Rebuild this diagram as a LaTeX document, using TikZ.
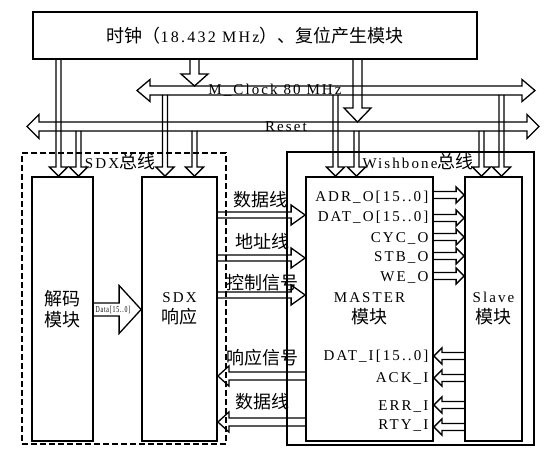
\documentclass[tikz,border=0pt]{standalone}
\usepackage{fontspec}
\setmainfont{Liberation Serif}[LetterSpace=14]
\newfontfamily\cjk{Noto Sans CJK SC}
\usetikzlibrary{calc}

\newcommand\hz[1]{{\fontsize{18}{21}\selectfont\cjk #1}}
\newcommand\lt[1]{{\fontsize{15}{21}\selectfont\rmfamily #1}}

\tikzset{
    blk/.style={draw, line width=1.8pt, inner sep=0pt, align=center, font=\fontsize{18}{21}\selectfont\cjk},
    lat/.style={inner sep=0pt, font=\fontsize{15}{18}\selectfont},
    han/.style={inner sep=0pt, font=\fontsize{18}{21}\selectfont\cjk},
    fatdown/.style n args={3}{to path={let \p1=(\tikztostart), \p2=(\tikztotarget) in
        (\x1-#1pt,\y1) -- (\x1-#1pt,\y2+#3pt) -- (\x1-#2pt,\y2+#3pt) -- (\x1,\y2) -- (\x1+#2pt,\y2+#3pt) -- (\x1+#1pt,\y2+#3pt) -- (\x1+#1pt,\y1)}},
    fatright/.style n args={3}{to path={let \p1=(\tikztostart), \p2=(\tikztotarget) in
        (\x1,\y1+#1pt) -- (\x2-#3pt,\y1+#1pt) -- (\x2-#3pt,\y1+#2pt) -- (\x2,\y1) -- (\x2-#3pt,\y1-#2pt) -- (\x2-#3pt,\y1-#1pt) -- (\x1,\y1-#1pt)}},
    fatleft/.style n args={3}{to path={let \p1=(\tikztostart), \p2=(\tikztotarget) in
        (\x1,\y1+#1pt) -- (\x2+#3pt,\y1+#1pt) -- (\x2+#3pt,\y1+#2pt) -- (\x2,\y1) -- (\x2+#3pt,\y1-#2pt) -- (\x2+#3pt,\y1-#1pt) -- (\x1,\y1-#1pt)}},
    fatboth/.style n args={3}{to path={let \p1=(\tikztostart), \p2=(\tikztotarget) in
        (\x1,\y1) -- (\x1+#3pt,\y1+#2pt) -- (\x1+#3pt,\y1+#1pt) -- (\x2-#3pt,\y1+#1pt) -- (\x2-#3pt,\y1+#2pt) -- (\x2,\y1)
        -- (\x2-#3pt,\y1-#2pt) -- (\x2-#3pt,\y1-#1pt) -- (\x1+#3pt,\y1-#1pt) -- (\x1+#3pt,\y1-#2pt) -- cycle}},
}

\begin{document}
\begin{tikzpicture}[x=1pt, y=-1pt, line width=1.3pt]
    \useasboundingbox (0,0) rectangle (548,457);

    \node[blk, minimum width=444, minimum height=47] (top) at (255,35.5) {时钟（{\fontsize{16}{21}\selectfont\rmfamily 18.432 MHz}）、复位产生模块};

    \node[draw, line width=1.4pt, dash pattern=on 6pt off 3pt, minimum width=204, minimum height=291, inner sep=0pt] (sdxbus) at (124,298.5) {};
    \node[draw, line width=1.6pt, minimum width=247, minimum height=293, inner sep=0pt] (wbbus) at (410.5,298.5) {};

    \node[blk, minimum width=61, minimum height=264] (dec) at (62.5,309) {解码\\模块};
    \node[blk, minimum width=75, minimum height=264] (sdx) at (179.5,309) {\lt{SDX}\\响应};
    \node[blk, minimum width=127, minimum height=264] (master) at (369.5,309) {\lt{MASTER}\\模块};
    \node[blk, minimum width=57, minimum height=264] (slave) at (493.5,309) {\lt{Slave}\\模块};

    \coordinate (clkL) at (137,90.5);
    \coordinate (clkR) at (535,90.5);
    \coordinate (rstL) at (27,126.5);
    \coordinate (rstR) at (539,126.5);
    \coordinate (clkT) at (0,86);
    \coordinate (clkB) at (0,95);
    \coordinate (rstT) at (0,122);
    \coordinate (rstB) at (0,131);

    \draw[fatboth={4.5}{11}{13}] (clkL) to (clkR);
    \draw[fatboth={4.5}{12}{12}] (rstL) to (rstR);

    \draw[fatdown={4.5}{13.5}{12}] (194.5,0 |- top.south) to (clkT);
    \draw[fatdown={4.5}{13.5}{14}] (357.5,0 |- top.south) to (rstT);

    \draw[fatdown={2.5}{9}{9}] (58.5,0 |- top.south) to (dec.north);
    \draw[fatdown={2.5}{9}{9}] (78.5,0 |- rstB) to (dec.north);
    \draw[fatdown={2.5}{9}{9}] (165,0 |- clkB) to (sdx.north);
    \draw[fatdown={2.5}{9}{9}] (194.5,0 |- rstB) to (sdx.north);
    \draw[fatdown={2.5}{9}{9}] (335.5,0 |- clkB) to (master.north);
    \draw[fatdown={2.5}{9}{9}] (356.5,0 |- rstB) to (master.north);
    \draw[fatdown={2.5}{9}{9}] (481.5,0 |- rstB) to (slave.north);
    \draw[fatdown={2.5}{9}{9}] (501.5,0 |- clkB) to (slave.north);

    \draw[fatright={6.5}{24}{22}] (dec.east |- 0,309.5) to (sdx.west);
    \node[inner sep=0pt, font=\fontsize{9}{9}\selectfont, xscale=0.65, transform shape] (dlbl) at (113,309.5) {Data[15..0]};

    \draw[fatright={3}{10}{14}] (sdx.east |- 0,215) to (master.west);
    \draw[fatright={3}{10}{14}] (sdx.east |- 0,258) to (master.west);
    \draw[fatright={3}{10}{14}] (sdx.east |- 0,295) to (master.west);
    \draw[fatleft={4}{10}{11}] (master.west |- 0,376) to (sdx.east);
    \draw[fatleft={4}{10}{11}] (master.west |- 0,422) to (sdx.east);

    \foreach \y in {195,218,237,256,276}
        \draw[fatright={3.5}{8}{8}] (master.east |- 0,\y) to (slave.west);
    \foreach \y in {356,378,405,427}
        \draw[fatleft={3.5}{8}{8}] (slave.west |- 0,\y) to (master.east);

    \node[lat] (clklbl) at (275,90) {M\_Clock 80 MHz};
    \node[lat] (rstlbl) at (286,127) {Reset};
    \node[lat] (sdxlbl) at (120,162) {SDX\hz{总线}};
    \node[lat] (wblbl) at (418,162) {Wishbone\hz{总线}};

    \node[han] (data1) at (260,200) {数据线};
    \node[han] (addr) at (262,242) {地址线};
    \node[han] (ctrl) at (262,283) {控制信号};
    \node[han] (resp) at (262,358) {响应信号};
    \node[han] (data2) at (262,402) {数据线};

    \node[lat, anchor=east] (adr) at (429,197) {ADR\_O[15..0]};
    \node[lat, anchor=east] (dato) at (429,217) {DAT\_O[15..0]};
    \node[lat, anchor=east] (cyc) at (429,238) {CYC\_O};
    \node[lat, anchor=east] (stb) at (429,257) {STB\_O};
    \node[lat, anchor=east] (we) at (429,277) {WE\_O};
    \node[lat, anchor=east] (dati) at (429,356) {DAT\_I[15..0]};
    \node[lat, anchor=east] (ack) at (429,378) {ACK\_I};
    \node[lat, anchor=east] (err) at (429,407) {ERR\_I};
    \node[lat, anchor=east] (rty) at (429,426) {RTY\_I};
\end{tikzpicture}
\end{document}
